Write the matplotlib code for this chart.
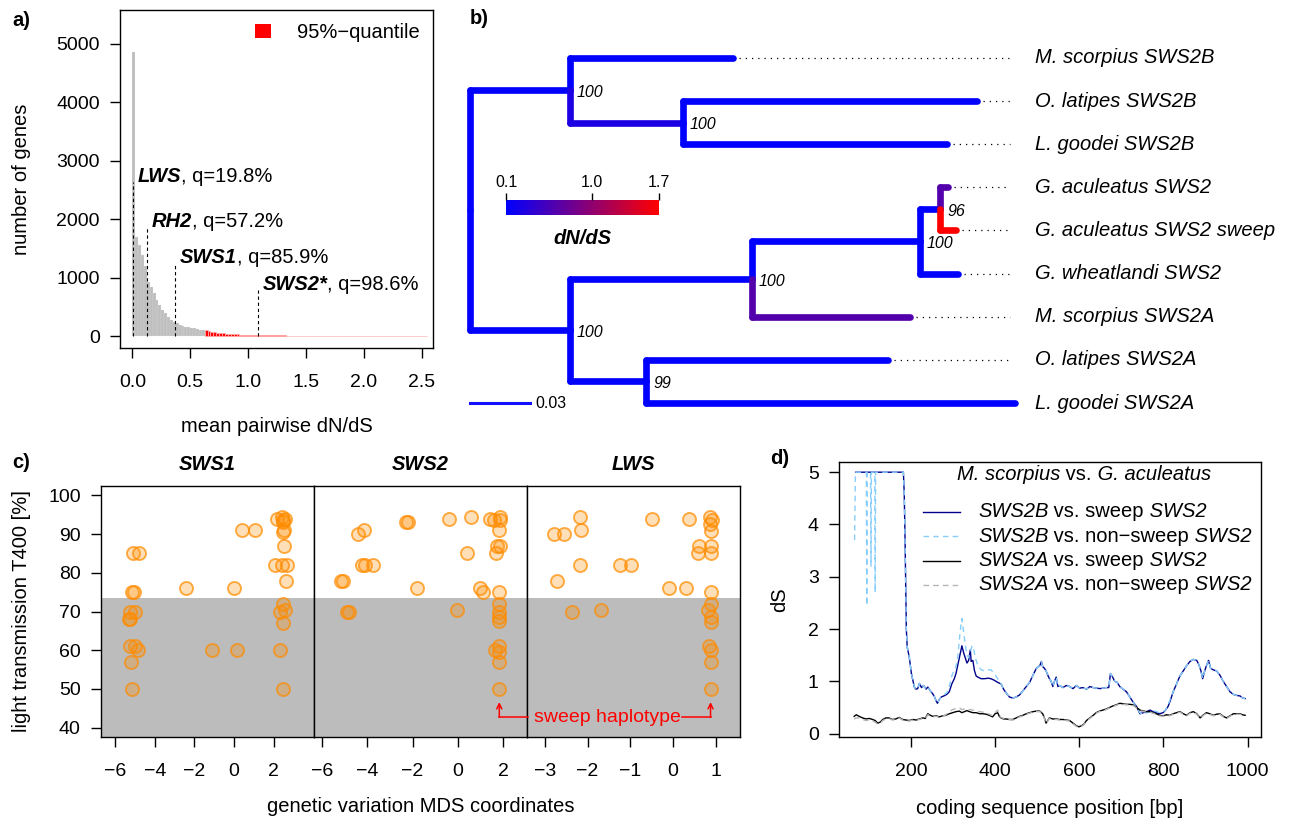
import numpy as np
import matplotlib
matplotlib.use("Agg")
import matplotlib.pyplot as plt
from matplotlib.colors import LinearSegmentedColormap, Normalize
from matplotlib.cm import ScalarMappable
from matplotlib.patches import Patch
from matplotlib.ticker import FormatStrFormatter

W, H = 1303, 818
FS = 14.5
TICK_FS = 14

# ---------------- panel a: histogram of mean pairwise dN/dS ----------------
BIN_W = 0.025
Q95_START = 0.625
GENE_COUNTS = [
    4860, 1700, 1560, 1390, 1190, 930, 845, 730, 615, 530,
    445, 390, 330, 275, 245, 215, 190, 170, 160, 150,
    140, 130, 120, 110, 100, 100, 82, 75, 62, 54,
    48, 44, 40, 36, 33, 30, 28, 26, 24, 22,
    20, 19, 18, 17, 16, 14, 13, 12, 11, 11,
    10, 9, 9, 8, 8, 7, 7, 6, 6, 6,
    5, 5, 5, 4, 4, 4, 4, 3, 3, 3,
    3, 3, 3, 2, 2, 2, 2, 2, 2, 2,
    2, 2, 1, 2, 1, 1, 2, 1, 1, 1,
    1, 1, 1, 1, 1, 1, 1, 1, 1, 1,
    1, 1,
]
OPSIN_GENES = ["LWS", "RH2", "SWS1", "SWS2*"]
OPSIN_DNDS = [0.005, 0.124, 0.369, 1.084]
OPSIN_LINE_TOP = [2640, 1870, 1250, 790]
OPSIN_QUANTILE = ["19.8", "57.2", "85.9", "98.6"]

# ---------------- panel b: gene tree (parent, child, branch length, dN/dS) --
TREE_EDGES = [
    ("root", "A", 0.050, 0.10),
    ("A", "M. scorpius SWS2B", 0.0815, 0.10),
    ("A", "C", 0.0565, 0.28),
    ("C", "O. latipes SWS2B", 0.147, 0.10),
    ("C", "L. goodei SWS2B", 0.132, 0.10),
    ("root", "B", 0.050, 0.10),
    ("B", "D", 0.091, 0.10),
    ("B", "E", 0.038, 0.10),
    ("D", "F", 0.084, 0.10),
    ("D", "M. scorpius SWS2A", 0.079, 0.62),
    ("F", "G", 0.010, 0.10),
    ("F", "G. wheatlandi SWS2", 0.019, 0.10),
    ("G", "G. aculeatus SWS2", 0.004, 0.62),
    ("G", "G. aculeatus SWS2 sweep", 0.008, 1.70),
    ("E", "O. latipes SWS2A", 0.121, 0.10),
    ("E", "L. goodei SWS2A", 0.1845, 0.10),
]
NODE_SUPPORT = {"A": "100", "C": "100", "B": "100", "D": "100",
                "F": "100", "G": "96", "E": "99"}
DNDS_RANGE = (0.1, 1.7)
DNDS_TICKS = [0.1, 1.0, 1.7]
SCALE_BAR = 0.03

# ---------------- panel c: T400 vs MDS coordinate -------------------------
SWS1_PTS = [
    (-5.08, 85), (-4.78, 85), (-5.13, 75), (-5.03, 75), (-5.24, 70), (-4.99, 70),
    (-5.28, 68), (-5.24, 68), (-5.24, 61), (-4.99, 61), (-4.83, 60), (-5.21, 57),
    (-5.13, 50), (-2.42, 76), (0.0, 76), (0.39, 91), (1.06, 91), (-1.13, 60),
    (0.13, 60), (2.15, 94), (2.40, 94.5), (2.57, 94), (2.49, 93), (2.45, 93.5),
    (2.45, 90.5), (2.50, 91), (2.52, 87), (2.07, 82), (2.40, 82), (2.66, 82),
    (2.61, 78), (2.49, 72), (2.32, 70), (2.57, 70.5), (2.49, 67), (2.32, 60),
    (2.45, 50),
]
SWS2_PTS = [
    (-4.42, 90), (-4.16, 91), (-2.28, 93), (-2.18, 93), (-0.38, 94), (0.57, 94.5),
    (1.42, 94), (1.57, 93.5), (1.83, 94.5), (1.86, 93.5), (1.82, 91), (1.72, 87),
    (1.83, 87), (1.69, 85), (0.40, 85), (-4.23, 82), (-4.08, 82), (-3.72, 82),
    (-5.07, 78), (-5.15, 78), (-1.81, 76), (0.98, 76), (1.10, 75), (1.82, 75),
    (-4.89, 70), (-4.78, 70), (-0.04, 70.5), (1.82, 72), (1.82, 70), (1.82, 68.5),
    (1.82, 67.5), (1.64, 60), (1.82, 61), (1.82, 59.5), (1.82, 57), (1.82, 50),
]
LWS_PTS = [
    (-2.18, 94.5), (-2.15, 91), (-2.79, 90), (-2.55, 90), (-2.18, 82), (-1.24, 82),
    (-0.98, 82), (-2.71, 78), (-0.48, 94), (0.37, 94), (0.87, 94.5), (0.91, 93.5),
    (0.87, 92.7), (0.88, 90.7), (0.61, 87), (0.58, 85), (0.88, 87), (0.88, 85),
    (-0.09, 76), (0.30, 76), (0.88, 75), (0.88, 72), (0.82, 70.3), (0.88, 68.5),
    (0.88, 67.3), (-2.37, 70), (-1.69, 70.3), (0.85, 61), (0.90, 60), (0.88, 57),
    (0.88, 50),
]
T400_THRESHOLD = 73.6
SWEEP_X_SWS2 = 1.82
SWEEP_X_LWS = 0.88

# ---------------- panel d: sliding-window dS -------------------------------
DS_B_SWEEP = [
    (69, 5.0), (182, 5.0), (184, 4.6), (186, 3.7), (189, 2.0), (191, 1.66), (196, 1.46),
    (201, 1.15), (208, 0.89), (212, 0.85), (216, 0.86), (220, 0.96), (225, 0.88),
    (230, 0.92), (236, 0.85), (240, 0.89), (246, 0.82), (250, 0.78), (255, 0.72),
    (260, 0.62), (263, 0.58), (267, 0.65), (272, 0.70), (278, 0.72), (285, 0.75),
    (291, 0.80), (297, 0.95), (303, 1.05), (307, 1.15), (311, 1.30), (315, 1.45),
    (319, 1.60), (321, 1.68), (325, 1.55), (329, 1.45), (333, 1.35), (337, 1.40),
    (341, 1.60), (343, 1.38), (347, 1.40), (351, 1.20), (355, 1.10), (359, 1.08),
    (367, 1.05), (375, 1.05), (383, 1.06), (390, 1.05), (398, 1.02), (406, 0.98),
    (414, 0.95), (420, 0.85), (426, 0.78), (434, 0.70), (442, 0.68), (450, 0.70),
    (458, 0.74), (466, 0.82), (474, 0.90), (482, 0.98), (490, 1.12), (498, 1.25),
    (506, 1.30), (510, 1.38), (513, 1.28), (517, 1.25), (521, 1.20), (525, 1.12),
    (529, 1.05), (533, 1.00), (537, 0.90), (541, 1.00), (545, 1.08), (549, 0.90),
    (553, 0.92), (561, 0.88), (569, 0.92), (577, 0.90), (585, 0.86), (593, 0.92),
    (601, 0.87), (609, 0.88), (617, 0.85), (625, 0.90), (633, 0.88), (641, 0.87),
    (649, 0.86), (657, 0.87), (664, 0.88), (670, 0.88), (674, 1.15), (678, 1.10),
    (684, 1.00), (690, 0.98), (696, 0.90), (704, 0.85), (712, 0.80), (720, 0.70),
    (728, 0.60), (736, 0.52), (744, 0.38), (752, 0.40), (760, 0.42), (768, 0.45),
    (775, 0.42), (783, 0.40), (791, 0.38), (799, 0.40), (805, 0.45), (811, 0.52),
    (817, 0.65), (823, 0.80), (831, 0.95), (839, 1.10), (847, 1.20), (855, 1.30),
    (863, 1.38), (871, 1.42), (879, 1.40), (884, 1.32), (889, 1.20), (893, 1.05),
    (898, 1.20), (902, 1.30), (907, 1.40), (912, 1.25), (918, 1.22), (926, 1.20),
    (934, 1.12), (942, 1.00), (950, 0.90), (958, 0.80), (966, 0.75), (974, 0.73),
    (982, 0.72), (988, 0.68), (994, 0.67),
]
DS_B_NONSWEEP = [
    (66, 3.7), (68, 5.0), (94, 5.0), (95, 2.45), (96, 5.0), (104, 5.0), (105, 3.2),
    (106, 5.0), (114, 5.0), (115, 2.7), (116, 5.0), (182, 5.0), (184, 4.6), (186, 3.7),
    (189, 2.0), (191, 1.66), (196, 1.46), (201, 1.15), (208, 0.89), (212, 0.85),
    (216, 0.86), (220, 0.96), (225, 0.88), (230, 0.92), (236, 0.85), (240, 0.89),
    (246, 0.82), (250, 0.78), (255, 0.72), (260, 0.62), (263, 0.58), (267, 0.65),
    (272, 0.70), (278, 0.74), (285, 0.78), (291, 0.90), (297, 1.10), (303, 1.22),
    (307, 1.28), (311, 1.45), (315, 1.80), (319, 2.10), (321, 2.20), (325, 1.95),
    (329, 1.70), (333, 1.50), (337, 1.45), (341, 1.55), (345, 1.68), (349, 1.62),
    (353, 1.45), (359, 1.30), (367, 1.22), (375, 1.20), (383, 1.22), (390, 1.22),
    (398, 1.15), (406, 1.05), (414, 0.95), (420, 0.85), (426, 0.78), (434, 0.70),
    (442, 0.68), (450, 0.70), (458, 0.74), (466, 0.82), (474, 0.90), (482, 0.98),
    (490, 1.12), (498, 1.25), (506, 1.30), (510, 1.38), (513, 1.28), (517, 1.25),
    (521, 1.20), (525, 1.12), (529, 1.05), (533, 1.00), (537, 0.90), (541, 1.00),
    (545, 1.08), (549, 0.90), (553, 0.92), (561, 0.88), (569, 0.92), (577, 0.90),
    (585, 0.86), (593, 0.92), (601, 0.87), (609, 0.88), (617, 0.85), (625, 0.90),
    (633, 0.88), (641, 0.87), (649, 0.86), (657, 0.87), (664, 0.88), (670, 0.88),
    (674, 1.15), (678, 1.10), (684, 1.00), (690, 0.98), (696, 0.90), (704, 0.85),
    (712, 0.80), (720, 0.70), (728, 0.60), (736, 0.50), (744, 0.40), (752, 0.36),
    (760, 0.40), (768, 0.42), (775, 0.45), (783, 0.42), (791, 0.40), (799, 0.42),
    (805, 0.45), (811, 0.55), (817, 0.68), (823, 0.80), (831, 0.95), (839, 1.10),
    (847, 1.20), (855, 1.30), (863, 1.38), (871, 1.42), (879, 1.40), (884, 1.32),
    (889, 1.20), (893, 1.05), (898, 1.20), (902, 1.30), (907, 1.40), (912, 1.25),
    (918, 1.22), (926, 1.20), (934, 1.12), (942, 1.00), (950, 0.90), (958, 0.80),
    (966, 0.75), (974, 0.73), (982, 0.72), (988, 0.68), (994, 0.67),
]
DS_A_SWEEP = [
    (65, 0.33), (70, 0.36), (77, 0.33), (85, 0.30), (93, 0.28), (101, 0.29), (109, 0.27),
    (115, 0.25), (121, 0.20), (127, 0.22), (133, 0.27), (140, 0.30), (148, 0.30),
    (156, 0.27), (164, 0.28), (172, 0.31), (180, 0.27), (188, 0.26), (196, 0.25),
    (204, 0.27), (212, 0.26), (220, 0.28), (228, 0.30), (234, 0.29), (240, 0.38),
    (246, 0.35), (252, 0.33), (260, 0.34), (267, 0.32), (275, 0.34), (283, 0.35),
    (291, 0.38), (299, 0.40), (307, 0.42), (315, 0.43), (321, 0.40), (327, 0.42),
    (333, 0.44), (339, 0.42), (347, 0.40), (355, 0.40), (363, 0.38), (371, 0.38),
    (379, 0.37), (386, 0.35), (394, 0.32), (400, 0.38), (406, 0.40), (410, 0.33),
    (414, 0.30), (420, 0.28), (426, 0.28), (434, 0.27), (442, 0.27), (450, 0.30),
    (458, 0.33), (466, 0.35), (474, 0.38), (482, 0.40), (490, 0.42), (498, 0.43),
    (506, 0.43), (513, 0.38), (517, 0.30), (521, 0.20), (525, 0.25), (529, 0.30),
    (537, 0.28), (545, 0.28), (553, 0.27), (561, 0.27), (569, 0.26), (577, 0.25),
    (585, 0.20), (593, 0.15), (599, 0.13), (605, 0.15), (611, 0.18), (617, 0.25),
    (625, 0.30), (633, 0.35), (640, 0.40), (648, 0.43), (656, 0.45), (664, 0.47),
    (672, 0.50), (680, 0.53), (688, 0.55), (696, 0.58), (704, 0.57), (712, 0.56),
    (720, 0.56), (728, 0.55), (736, 0.50), (744, 0.45), (752, 0.43), (760, 0.42),
    (768, 0.42), (775, 0.40), (783, 0.38), (791, 0.35), (799, 0.34), (807, 0.36),
    (815, 0.35), (823, 0.38), (831, 0.40), (839, 0.42), (847, 0.38), (855, 0.35),
    (863, 0.40), (871, 0.42), (879, 0.38), (887, 0.30), (895, 0.36), (902, 0.40),
    (910, 0.38), (918, 0.35), (926, 0.37), (934, 0.38), (942, 0.33), (950, 0.30),
    (958, 0.34), (966, 0.38), (974, 0.38), (982, 0.38), (988, 0.36), (994, 0.35),
]
DS_A_NONSWEEP = [
    (65, 0.28), (70, 0.30), (77, 0.30), (85, 0.27), (93, 0.25), (101, 0.26), (109, 0.24),
    (115, 0.22), (121, 0.18), (127, 0.20), (133, 0.25), (140, 0.28), (148, 0.29),
    (156, 0.26), (164, 0.27), (172, 0.30), (180, 0.26), (188, 0.25), (196, 0.24),
    (204, 0.26), (212, 0.25), (220, 0.27), (228, 0.29), (234, 0.28), (240, 0.36),
    (246, 0.34), (252, 0.32), (260, 0.33), (267, 0.31), (275, 0.33), (283, 0.36),
    (291, 0.42), (299, 0.46), (307, 0.48), (315, 0.49), (321, 0.46), (327, 0.47),
    (333, 0.48), (339, 0.46), (347, 0.45), (355, 0.44), (363, 0.42), (371, 0.41),
    (379, 0.40), (386, 0.37), (394, 0.34), (400, 0.40), (406, 0.45), (410, 0.35),
    (414, 0.31), (420, 0.29), (426, 0.28), (434, 0.27), (442, 0.26), (450, 0.29),
    (458, 0.32), (466, 0.34), (474, 0.37), (482, 0.39), (490, 0.41), (498, 0.42),
    (506, 0.42), (513, 0.37), (517, 0.29), (521, 0.19), (525, 0.24), (529, 0.29),
    (537, 0.27), (545, 0.27), (553, 0.26), (561, 0.26), (569, 0.25), (577, 0.24),
    (585, 0.19), (593, 0.14), (599, 0.12), (605, 0.14), (611, 0.17), (617, 0.24),
    (625, 0.29), (633, 0.34), (640, 0.39), (648, 0.42), (656, 0.44), (664, 0.46),
    (672, 0.49), (680, 0.52), (688, 0.54), (696, 0.57), (704, 0.56), (712, 0.55),
    (720, 0.55), (728, 0.54), (736, 0.49), (744, 0.44), (752, 0.42), (760, 0.41),
    (768, 0.41), (775, 0.39), (783, 0.37), (791, 0.34), (799, 0.33), (807, 0.35),
    (815, 0.34), (823, 0.37), (831, 0.39), (839, 0.41), (847, 0.37), (855, 0.34),
    (863, 0.39), (871, 0.41), (879, 0.37), (887, 0.29), (895, 0.35), (902, 0.39),
    (910, 0.37), (918, 0.34), (926, 0.36), (934, 0.37), (942, 0.32), (950, 0.29),
    (958, 0.33), (966, 0.37), (974, 0.37), (982, 0.37), (988, 0.35), (994, 0.34),
]

plt.rcParams["font.family"] = ["Liberation Sans", "DejaVu Sans"]
plt.rcParams["axes.linewidth"] = 1.0

fig = plt.figure(figsize=(W / 100, H / 100), dpi=100)


def box(left, top, right, bottom):
    """Axes rectangle from pixel edges (origin top-left)."""
    return [left / W, 1 - bottom / H, (right - left) / W, (bottom - top) / H]


def style_ticks(ax):
    ax.tick_params(direction="out", length=7.5, width=1, labelsize=TICK_FS)
    ax.tick_params(axis="x", pad=11)
    ax.tick_params(axis="y", pad=7)


def rich(ax, x, y, parts, size=FS, color="black", va="center", **kw):
    """Draw text pieces with mixed styles one after another on one line."""
    prev = None
    for text, style, weight in parts:
        if prev is None:
            prev = ax.text(x, y, text, fontsize=size, style=style, weight=weight,
                           color=color, va=va, ha="left", **kw)
        else:
            prev = ax.annotate(text, xy=(1, 0), xycoords=prev, fontsize=size,
                               style=style, weight=weight, color=color,
                               va="bottom", ha="left", annotation_clip=False)
    return prev


# overlay in pixel coordinates for labels
ov = fig.add_axes([0, 0, 1, 1], zorder=10)
ov.set_xlim(0, W)
ov.set_ylim(H, 0)
ov.axis("off")
ov.patch.set_alpha(0)

# ---------------- panel a ----------------
ax_a = fig.add_axes(box(120, 10, 433, 348))
left_edges = np.arange(len(GENE_COUNTS)) * BIN_W
in_tail = left_edges >= Q95_START - 1e-9
bar_colors = np.where(in_tail, "#ff0000", "#bebebe")
edge_colors = np.where(in_tail, "#ffb0b0", "#f2f2f2")
edge_widths = np.where(in_tail, 0.5, 0.12)
ax_a.bar(left_edges, GENE_COUNTS, width=BIN_W, align="edge", color=bar_colors,
         edgecolor=edge_colors, linewidth=edge_widths)
ax_a.set_xlim(-0.107, 2.598)
ax_a.set_ylim(-205, 5580)
ax_a.set_xticks([0, 0.5, 1.0, 1.5, 2.0, 2.5])
ax_a.xaxis.set_major_formatter(FormatStrFormatter("%.1f"))
ax_a.set_yticks([0, 1000, 2000, 3000, 4000, 5000])
style_ticks(ax_a)
for gene, xv, top, q in zip(OPSIN_GENES, OPSIN_DNDS, OPSIN_LINE_TOP, OPSIN_QUANTILE):
    ax_a.plot([xv, xv], [0, top], color="black", lw=0.8, ls=(0, (3, 2.5)))
    rich(ax_a, xv + 0.04, top, [(gene, "italic", "bold"), (f", q={q}%", "normal", "normal")],
         va="baseline")
ax_a.legend(handles=[Patch(facecolor="#ff0000", edgecolor="none")],
            labels=["95%\u2212quantile"], loc="upper right", frameon=False,
            fontsize=FS, handlelength=0.8, handleheight=0.75, handletextpad=1.3,
            borderaxespad=0.25)
ov.text(12, 20, "a)", fontsize=FS, weight="bold", va="center")
ov.text(22, 179, "number of genes", fontsize=FS, rotation=90, ha="center", va="center")
ov.text(276.5, 427, "mean pairwise dN/dS", fontsize=FS, ha="center", va="center")

# ---------------- panel b ----------------
cmap = LinearSegmentedColormap.from_list("dnds", ["#0000ff", "#ff0000"])
norm = Normalize(*DNDS_RANGE)

children = {}
for parent, child, length, dnds in TREE_EDGES:
    children.setdefault(parent, []).append((child, length, dnds))
node_x = {"root": 0.0}
node_y = {}
tips = []


def place(node):
    kids = children.get(node, [])
    for child, length, _ in kids:
        node_x[child] = node_x[node] + length
        place(child)
    if kids:
        node_y[node] = np.mean([node_y[c] for c, _, _ in kids])
    else:
        tips.append(node)
        node_y[node] = float(len(tips))


place("root")

ax_b = fig.add_axes(box(440, 30, 1303, 430))
ax_b.set_xlim(-0.015, 0.4165)
ax_b.set_ylim(9.626, 0.351)
ax_b.axis("off")
for parent, child, length, dnds in TREE_EDGES:
    c = cmap(norm(dnds))
    px, py = node_x[parent], node_y[parent]
    cx, cy = node_x[child], node_y[child]
    ax_b.plot([px, px], [py, cy], color=c, lw=4.8, solid_capstyle="round")
    ax_b.plot([px, cx], [cy, cy], color=c, lw=4.8, solid_capstyle="round")

LEADER_END = 0.27
LABEL_X = 0.2825
for tip in tips:
    tx, ty = node_x[tip], node_y[tip]
    if tx < LEADER_END - 0.002:
        ax_b.plot([tx + 0.003, LEADER_END], [ty, ty], color="black", lw=0.9,
                  ls=(0, (1, 4)))
    ax_b.text(LABEL_X, ty, tip, fontsize=FS, style="italic", va="center", ha="left")
for node, sup in NODE_SUPPORT.items():
    ax_b.text(node_x[node] + 0.0035, node_y[node] + 0.05, sup, fontsize=11.5,
              style="italic", va="center", ha="left")

ax_b.plot([0, SCALE_BAR], [node_y[tips[-1]]] * 2, color="#1010ff", lw=2.2)
ax_b.text(SCALE_BAR + 0.0025, node_y[tips[-1]], f"{SCALE_BAR:.2f}", fontsize=11.5,
          va="center", ha="left")

cax = fig.add_axes(box(506, 200, 659, 215))
cb = fig.colorbar(ScalarMappable(norm=norm, cmap=cmap), cax=cax, orientation="horizontal")
cb.outline.set_visible(False)
cax.xaxis.set_ticks_position("top")
cb.set_ticks(DNDS_TICKS)
cb.set_ticklabels([f"{t:.1f}" for t in DNDS_TICKS])
cax.tick_params(axis="x", direction="out", length=5, width=1, labelsize=11.5, pad=2)
ov.text(582.5, 238, "dN/dS", fontsize=FS, weight="bold", style="italic",
        ha="center", va="center")
ov.text(470, 18, "b)", fontsize=FS, weight="bold", va="center")

# ---------------- panel c ----------------
c_boxes = [(101, 314), (314, 527), (527, 740)]
c_xlims = [(-6.71, 4.03), (-6.34, 3.04), (-3.42, 1.57)]
c_xticks = [[-6, -4, -2, 0, 2], [-6, -4, -2, 0, 2], [-3, -2, -1, 0, 1]]
c_titles = ["SWS1", "SWS2", "LWS"]
c_data = [SWS1_PTS, SWS2_PTS, LWS_PTS]
c_axes = []
for i, ((l, r), xl, xt, title, pts) in enumerate(zip(c_boxes, c_xlims, c_xticks,
                                                     c_titles, c_data)):
    ax = fig.add_axes(box(l, 486, r, 737))
    ax.set_xlim(*xl)
    ax.set_ylim(37.6, 102.4)
    ax.axhspan(30, T400_THRESHOLD, color="#bcbcbc", lw=0, zorder=0)
    xs, ys = zip(*pts)
    ax.scatter(xs, ys, s=88, facecolors=(1.0, 0.55, 0.0, 0.28),
               edgecolors=(1.0, 0.55, 0.0, 0.7), linewidths=1.4, zorder=3)
    ax.set_xticks(xt)
    style_ticks(ax)
    if i == 0:
        ax.set_yticks([40, 50, 60, 70, 80, 90, 100])
    else:
        ax.tick_params(axis="y", left=False, labelleft=False)
    ov.text((l + r) / 2, 464, title, fontsize=FS, weight="bold", style="italic",
            ha="center", va="center")
    c_axes.append(ax)

ov.text(12, 462, "c)", fontsize=FS, weight="bold", va="center")
ov.text(22, 611.5, "light transmission T400 [%]", fontsize=FS, rotation=90,
        ha="center", va="center")
ov.text(420.5, 807, "genetic variation MDS coordinates", fontsize=FS,
        ha="center", va="center")


def to_px(ax, x, y):
    dx, dy = ax.transData.transform((x, y))
    return dx, H - dy


l_base = to_px(c_axes[1], SWEEP_X_SWS2, 42.7)
l_tip = to_px(c_axes[1], SWEEP_X_SWS2, 46.6)
r_base = to_px(c_axes[2], SWEEP_X_LWS, 42.7)
r_tip = to_px(c_axes[2], SWEEP_X_LWS, 46.6)
mid = (l_base[0] + r_base[0]) / 2 + 3
ov.text(mid, l_base[1], "sweep haplotype", fontsize=14, color="#ff0000",
        ha="center", va="center")
ov.plot([mid - 80, l_base[0]], [l_base[1]] * 2, color="#ff0000", lw=1.1)
ov.plot([mid + 74, r_base[0]], [r_base[1]] * 2, color="#ff0000", lw=1.1)
for base, tip in [(l_base, l_tip), (r_base, r_tip)]:
    ov.annotate("", xy=tip, xytext=base,
                arrowprops=dict(arrowstyle="->", color="#ff0000", lw=1.1,
                                shrinkA=0, shrinkB=0, mutation_scale=9))

# ---------------- panel d ----------------
ax_d = fig.add_axes(box(839, 462, 1261, 737))
series = [
    (DS_B_SWEEP, "#00008b", "-"),
    (DS_B_NONSWEEP, "#87cefa", (0, (4, 3))),
    (DS_A_SWEEP, "black", "-"),
    (DS_A_NONSWEEP, "#b5b5b5", (0, (4, 3))),
]
for pts, col, ls in series:
    xs, ys = zip(*pts)
    ax_d.plot(xs, ys, color=col, lw=1.0, ls=ls)
ax_d.set_xlim(29, 1031.7)
ax_d.set_ylim(-0.065, 5.195)
ax_d.set_xticks([200, 400, 600, 800, 1000])
ax_d.set_yticks([0, 1, 2, 3, 4, 5])
style_ticks(ax_d)

rich(ov, 957, 475, [("M. scorpius", "italic", "normal"), (" vs.", "normal", "normal"),
                    (" G. aculeatus", "italic", "normal")])
legend_rows = [
    ("SWS2B", " vs. sweep"),
    ("SWS2B", " vs. non\u2212sweep"),
    ("SWS2A", " vs. sweep"),
    ("SWS2A", " vs. non\u2212sweep"),
]
for k, ((gene, mid_txt), (_, col, ls)) in enumerate(zip(legend_rows, series)):
    yy = 511.5 + k * 24.5
    ov.plot([923, 960], [yy, yy], color=col, lw=1.0, ls=ls)
    rich(ov, 978, yy, [(gene, "italic", "normal"), (mid_txt, "normal", "normal"),
                       (" SWS2", "italic", "normal")])

ov.text(770, 458, "d)", fontsize=FS, weight="bold", va="center")
ov.text(780, 599.5, "dS", fontsize=FS, rotation=90, ha="center", va="center")
ov.text(1050, 808, "coding sequence position [bp]", fontsize=FS, ha="center", va="center")

fig.savefig("out.png", dpi=100, facecolor="white")
